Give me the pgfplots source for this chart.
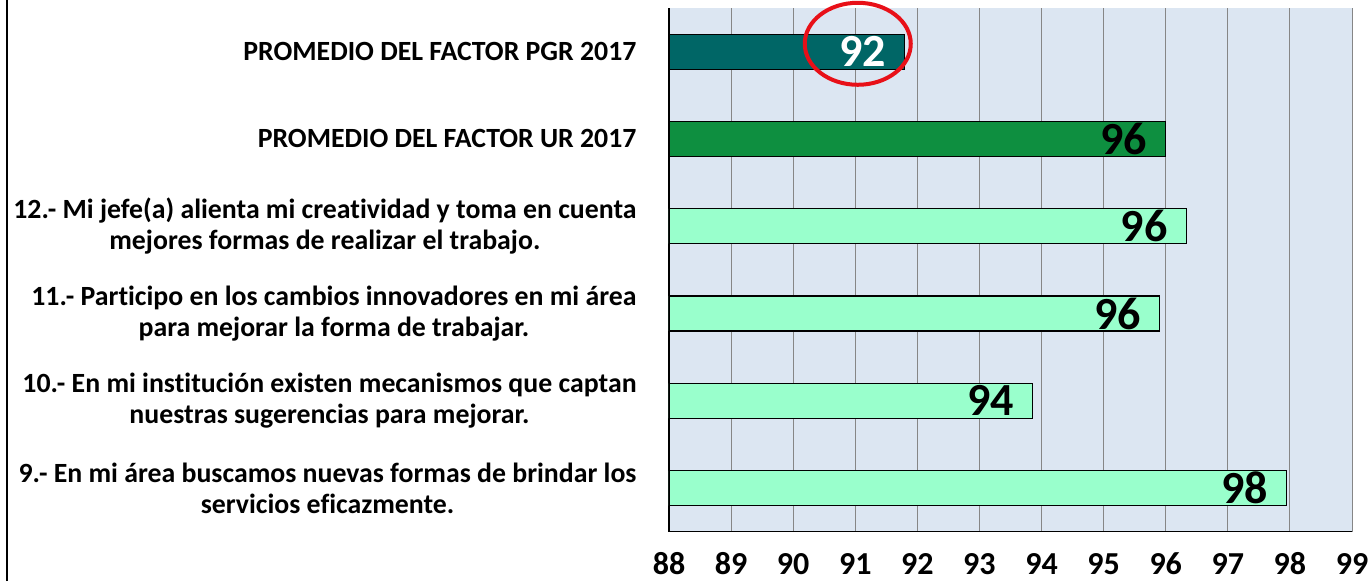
\documentclass[border=0pt]{standalone}
\usepackage{pgfplots}
\pgfplotsset{compat=1.18}
\usepackage{fontspec}
\setmainfont{Carlito}[Numbers=Lining, Ligatures=NoCommon]
\definecolor{bgc}{RGB}{220,230,242}
\definecolor{gridc}{RGB}{134,134,134}
\definecolor{pgr}{RGB}{0,102,102}
\definecolor{ur}{RGB}{14,143,64}
\definecolor{mint}{RGB}{153,255,204}
\definecolor{ellred}{RGB}{232,16,24}
\begin{document}
\begin{tikzpicture}
\path[use as bounding box] (0,0) rectangle (1368pt,581pt);
\draw[line width=1.5pt] (7pt,0) -- (7pt,581pt);
\begin{axis}[
  at={(669pt,49.3pt)}, anchor=south west,
  scale only axis, width=683pt, height=523.7pt,
  xbar, bar width=35pt, bar shift=0pt,
  xmin=88, xmax=99, ymin=-0.5, ymax=5.5,
  xtick={88,...,99},
  ytick={0,...,5},
  yticklabels={{9.- En mi área buscamos nuevas formas de brindar los\\servicios eficazmente.},
    {10.- En mi institución existen mecanismos que captan\\nuestras sugerencias para mejorar.},
    {11.- Participo en los cambios innovadores en mi área\\para mejorar la forma de trabajar.},
    {12.- Mi jefe(a) alienta mi creatividad y toma en cuenta\\mejores formas de realizar el trabajo.},
    {PROMEDIO DEL FACTOR UR 2017},
    {PROMEDIO DEL FACTOR PGR 2017}},
  axis x line*=bottom, axis y line*=left,
  axis line style={line width=1.5pt, -},
  xmajorgrids, grid style={gridc, line width=1pt},
  tick style={draw=none},
  axis background/.style={fill=bgc},
  /pgf/number format/assume math mode=true,
  xticklabel style={font=\fontsize{32}{32}\selectfont\bfseries, inner sep=0pt, anchor=north, text height=20pt, text depth=0pt, yshift=-22.5pt},
  yticklabel style={font=\fontsize{27.8}{31}\selectfont\bfseries, align=center, inner sep=0pt, xshift=-28pt},
  nodes near coords={\pgfmathprintnumber[fixed,precision=0]{\pgfplotspointmeta}},
  nodes near coords align={anchor=east},
  every node near coord/.append style={font=\fontsize{46}{46}\selectfont\bfseries, inner sep=0pt, xshift=-18pt},
]
\addplot[fill=mint, draw=black, line width=1.2pt] coordinates {(97.95,0) (93.85,1) (95.9,2) (96.33,3)};
\addplot[fill=ur, draw=black, line width=1.2pt] coordinates {(96.0,4)};
\addplot[fill=pgr, draw=black, line width=1.2pt, every node near coord/.append style={text=white}] coordinates {(91.79,5)};
\coordinate (e) at (axis cs:91.04,5.09);
\end{axis}
\draw[ellred, line width=4pt] (e) ellipse [x radius=53pt, y radius=41pt];
\end{tikzpicture}
\end{document}
